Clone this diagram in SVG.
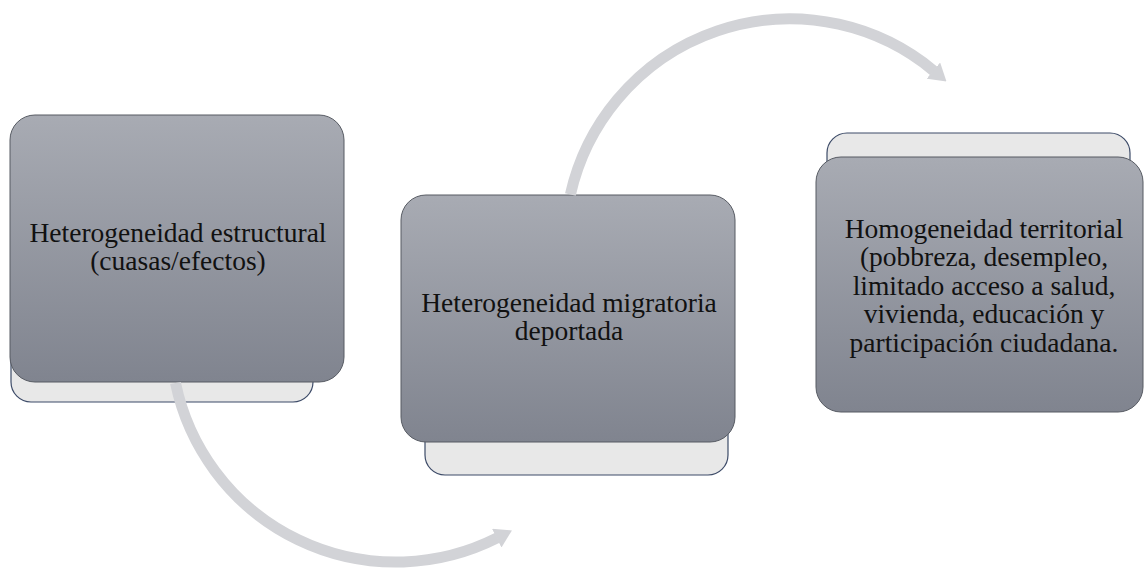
<svg xmlns="http://www.w3.org/2000/svg" width="1144" height="570" viewBox="0 0 1144 570">
  <defs>
    <linearGradient id="mainGrad" x1="0" y1="0" x2="0" y2="1">
      <stop offset="0" stop-color="#a8abb3"/>
      <stop offset="1" stop-color="#80848f"/>
    </linearGradient>
    <marker id="arrowHead" viewBox="0 0 17 21" markerWidth="17" markerHeight="21" markerUnits="userSpaceOnUse" refX="0.5" refY="10.5" orient="auto">
      <path d="M0,0 L17,10.5 L0,21 Z" fill="#d2d3d7"/>
    </marker>
    <style>
      .back { fill: #e8e8e8; stroke: #3d4b68; stroke-width: 1.2; }
      .main { fill: url(#mainGrad); stroke: #575b63; stroke-width: 1; }
      .label { font-family: "Liberation Serif", "Times New Roman", serif; font-size: 27.5px; fill: #111; text-anchor: middle; }
      .arc { fill: none; stroke: #d2d3d7; stroke-width: 11; marker-end: url(#arrowHead); }
    </style>
  </defs>
  <rect width="1144" height="570" fill="#ffffff"/>

  <g id="node1">
    <rect class="back" x="11" y="140" width="302" height="262" rx="20" ry="20"/>
    <rect class="main" x="10" y="115" width="334" height="267" rx="25" ry="25"/>
    <text class="label" x="178" y="242">Heterogeneidad estructural</text>
    <text class="label" x="178" y="270">(cuasas/efectos)</text>
  </g>

  <g id="node2">
    <rect class="back" x="425" y="220" width="303" height="255" rx="20" ry="20"/>
    <rect class="main" x="401" y="195" width="334" height="247" rx="25" ry="25"/>
    <text class="label" x="569" y="312">Heterogeneidad migratoria</text>
    <text class="label" x="569" y="340">deportada</text>
  </g>

  <g id="node3">
    <rect class="back" x="827" y="133" width="303" height="250" rx="20" ry="20"/>
    <rect class="main" x="816" y="157" width="327" height="255" rx="25" ry="25"/>
    <text class="label" x="984" y="238">Homogeneidad territorial</text>
    <text class="label" x="984" y="266">(pobbreza, desempleo,</text>
    <text class="label" x="984" y="295">limitado acceso a salud,</text>
    <text class="label" x="984" y="323">vivienda, educación y</text>
    <text class="label" x="984" y="352">participación ciudadana.</text>
  </g>

  <g id="connectors">
    <path class="arc" d="M175.5,383 A225,225 0 0 0 497.2,537.9"/>
    <path class="arc" d="M570.4,194.5 A225,225 0 0 1 933.8,70.9"/>
  </g>
</svg>
